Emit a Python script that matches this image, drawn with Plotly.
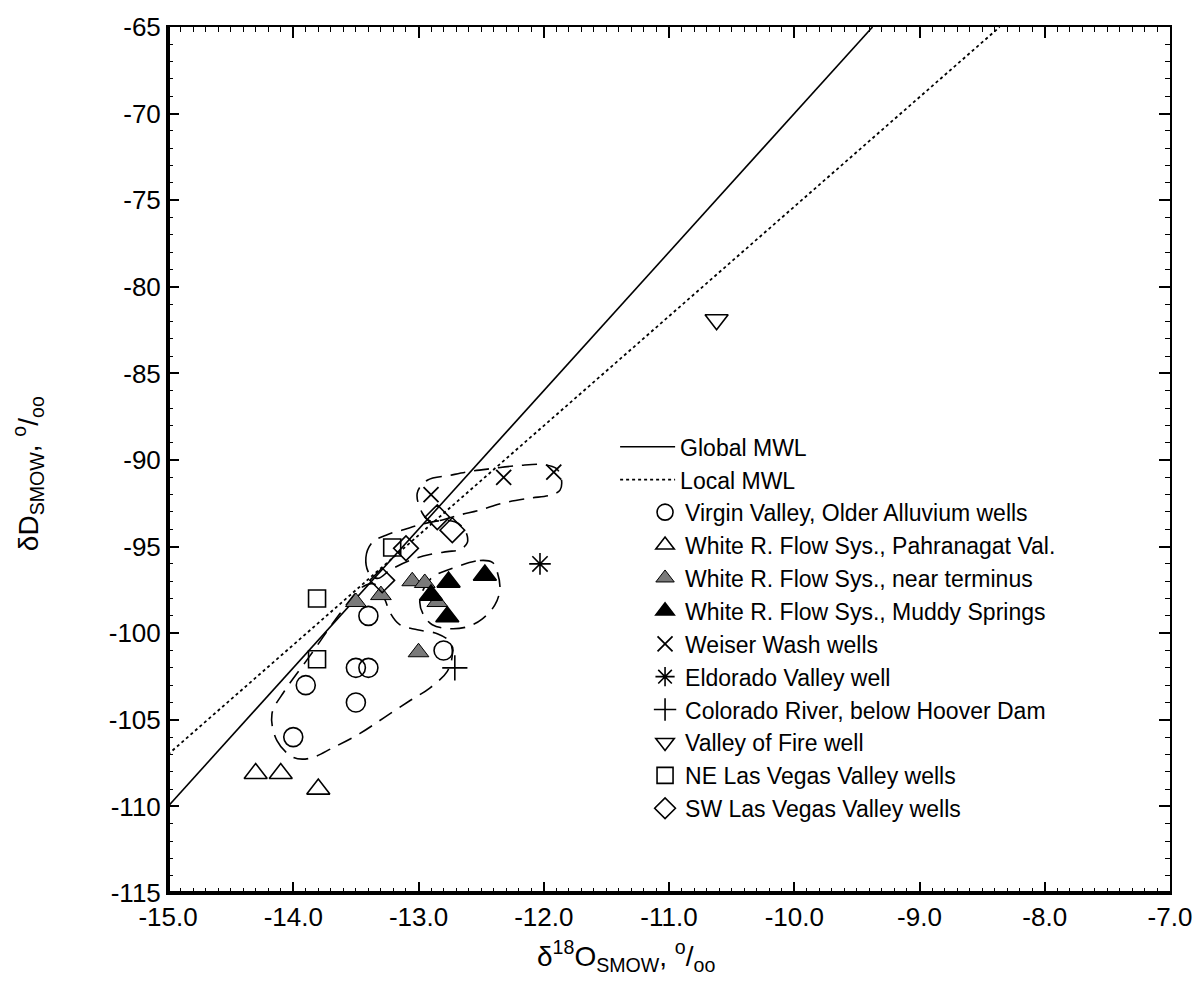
import plotly.graph_objects as go

# ---- data ----
x_ticks = [-15.0, -14.0, -13.0, -12.0, -11.0, -10.0, -9.0, -8.0, -7.0]
y_ticks = [-115, -110, -105, -100, -95, -90, -85, -80, -75, -70, -65]

gmwl_x = [-15.0, -9.375]
gmwl_y = [-110.0, -65.0]
lmwl_x = [-15.0, -8.36]
lmwl_y = [-107.0, -65.0]

virgin_x = [-14.0, -13.9, -13.5, -13.5, -13.4, -13.4, -12.8]
virgin_y = [-106.0, -103.0, -104.0, -102.0, -102.0, -99.0, -101.0]

pahranagat_x = [-14.3, -14.1, -13.8]
pahranagat_y = [-108.1, -108.1, -109.0]

terminus_x = [-13.5, -13.3, -13.05, -12.95, -12.85, -13.0]
terminus_y = [-98.2, -97.8, -97.0, -97.1, -98.2, -101.1]

muddy_x = [-12.9, -12.76, -12.47, -12.77]
muddy_y = [-97.8, -97.05, -96.65, -99.05]

weiser_x = [-12.9, -12.32, -11.92]
weiser_y = [-92.0, -91.0, -90.7]

eldorado_x = [-12.03]
eldorado_y = [-96.0]

colorado_x = [-12.71]
colorado_y = [-102.0]

fire_x = [-10.62]
fire_y = [-81.9]

ne_x = [-13.81, -13.81, -13.21]
ne_y = [-98.0, -101.5, -95.05]

sw_x = [-13.1, -12.73, -13.29, -12.85]
sw_y = [-95.1, -94.05, -96.95, -93.3]

# hand-drawn dashed enclosures
loop_big_x = [-14.17, -14.13, -14.0, -13.87, -13.68, -13.47, -13.28, -13.07, -12.91, -12.77,
              -12.73, -12.75, -12.85, -13.01, -13.15, -13.23, -13.27, -13.35, -13.45, -13.63,
              -13.87, -14.07, -14.17]
loop_big_y = [-104.66, -106.2, -107.17, -107.23, -106.6, -105.8, -104.9, -103.9, -103.17, -102.2,
              -101.23, -100.49, -100.03, -99.8, -99.5, -98.77, -98.03, -97.17, -97.34, -98.89,
              -101.34, -103.34, -104.66]

loop_weiser_x = [-13.01, -12.93, -12.75, -12.59, -12.41, -12.19, -12.01, -11.9, -11.86, -11.87,
                 -11.95, -12.11, -12.33, -12.51, -12.67, -12.81, -12.91, -12.97, -13.01]
loop_weiser_y = [-91.91, -91.17, -90.89, -90.66, -90.49, -90.31, -90.26, -90.49, -91.06, -91.74,
                 -92.03, -92.2, -92.49, -92.89, -93.17, -93.46, -93.51, -93.06, -91.91]

loop_sw_x = [-13.39, -13.42, -13.37, -13.25, -13.12, -12.99, -12.83, -12.71, -12.63, -12.61,
             -12.67, -12.77, -12.91, -13.07, -13.23, -13.32, -13.39]
loop_sw_y = [-96.6, -95.63, -94.77, -94.31, -94.03, -93.74, -93.51, -93.57, -94.03, -94.77,
             -95.17, -95.29, -95.46, -95.8, -96.37, -96.83, -96.6]

loop_muddy_x = [-12.75, -12.51, -12.41, -12.37, -12.35, -12.39, -12.49, -12.61, -12.75, -12.89,
                -12.96, -12.99, -12.96, -12.89, -12.75]
loop_muddy_y = [-96.31, -95.8, -95.91, -96.49, -97.46, -98.37, -99.17, -99.63, -99.74, -99.51,
                -98.94, -98.2, -97.46, -96.77, -96.31]

FONT = "Liberation Sans, Arial, Helvetica, sans-serif"

fig = go.Figure()

for lx, ly in [(loop_big_x, loop_big_y), (loop_weiser_x, loop_weiser_y),
               (loop_sw_x, loop_sw_y), (loop_muddy_x, loop_muddy_y)]:
    fig.add_trace(go.Scatter(x=lx, y=ly, mode="lines", showlegend=False, hoverinfo="skip",
                             line=dict(color="black", width=1.6, dash="15px,9px", shape="spline",
                                       smoothing=1.0)))

fig.add_trace(go.Scatter(x=gmwl_x, y=gmwl_y, mode="lines", name="Global MWL",
                         legend="legend", legendgroup="g1",
                         line=dict(color="black", width=1.6)))
fig.add_trace(go.Scatter(x=lmwl_x, y=lmwl_y, mode="lines", name="Local MWL",
                         legend="legend", legendgroup="g2",
                         line=dict(color="black", width=1.8, dash="dot")))

_n = [0]
def pts(x, y, name, symbol, size=18, color="black", lw=1.6):
    _n[0] += 1
    fig.add_trace(go.Scatter(x=x, y=y, mode="markers", name=name,
                             legend="legend2", legendgroup="m%d" % _n[0],
                             marker=dict(symbol=symbol, size=size, color=color,
                                         line=dict(color="black", width=lw))))

pts(virgin_x, virgin_y, "Virgin Valley, Older Alluvium wells", "circle-open", 19)
pts(pahranagat_x, pahranagat_y, "White R. Flow Sys., Pahranagat Val.", "triangle-up-open", 20)
pts(terminus_x, terminus_y, "White R. Flow Sys., near terminus", "triangle-up", 18, color="#7a7a7a", lw=1.0)
pts(muddy_x, muddy_y, "White R. Flow Sys., Muddy Springs", "triangle-up", 20)
pts(weiser_x, weiser_y, "Weiser Wash wells", "x-thin-open", 15, lw=1.8)
pts(eldorado_x, eldorado_y, "Eldorado Valley well", "asterisk-open", 18, lw=1.6)
pts(colorado_x, colorado_y, "Colorado River, below Hoover Dam", "cross-thin-open", 18, lw=1.6)
pts(fire_x, fire_y, "Valley of Fire well", "triangle-down-open", 20)
pts(ne_x, ne_y, "NE Las Vegas Valley wells", "square-open", 17)
pts(sw_x, sw_y, "SW Las Vegas Valley wells", "diamond-open", 19)

L, R, T, B = 168, 32, 19, 88
PW, PH = 1204 - L - R, 981 - T - B
def px2x(p):
    return (p - L) / PW
def px2y(p):
    return 1 - (p - T) / PH

fig.update_layout(
    width=1204, height=981,
    margin=dict(l=L, r=R, t=T, b=B),
    paper_bgcolor="white", plot_bgcolor="white",
    font=dict(family=FONT, color="black", size=22),
    legend=dict(x=px2x(616), y=px2y(421), xanchor="left", yanchor="top",
                bgcolor="rgba(0,0,0,0)", font=dict(size=23, family=FONT),
                itemwidth=55, tracegroupgap=0),
    legend2=dict(x=px2x(646), y=px2y(487), xanchor="left", yanchor="top",
                 bgcolor="rgba(0,0,0,0)", font=dict(size=23, family=FONT),
                 itemwidth=30, tracegroupgap=0),
    showlegend=True,
    shapes=[
        dict(type="line", xref="paper", yref="paper", x0=0, x1=0, y0=0, y1=1,
             line=dict(color="black", width=4)),
        dict(type="line", xref="paper", yref="paper", x0=0, x1=1, y0=0, y1=0,
             line=dict(color="black", width=4)),
    ],
    annotations=[
        dict(text="δ<sup>18</sup>O<sub>SMOW</sub>, <sup>o</sup>/<sub>oo</sub>",
             xref="paper", yref="paper", x=px2x(627), y=px2y(957),
             xanchor="center", yanchor="middle", showarrow=False,
             font=dict(size=28, family=FONT)),
        dict(text="δD<sub>SMOW</sub>, <sup>o</sup>/<sub>oo</sub>",
             xref="paper", yref="paper", x=px2x(28), y=px2y(470),
             xanchor="center", yanchor="middle", showarrow=False, textangle=-90,
             font=dict(size=28, family=FONT)),
    ],
)

fig.update_xaxes(
    range=[-15, -7],
    tickmode="array", tickvals=x_ticks, ticktext=["%.1f" % v for v in x_ticks],
    showgrid=False, zeroline=False,
    showline=True, linecolor="black", linewidth=2, mirror="ticks",
    ticks="inside", ticklen=11, tickwidth=1.5, tickcolor="black",
    tickfont=dict(size=26, family=FONT),
    minor=dict(dtick=0.1, tick0=-15, ticks="inside", ticklen=5, tickwidth=1,
               tickcolor="black", showgrid=False),
)
fig.update_yaxes(
    range=[-115, -65],
    tickmode="array", tickvals=y_ticks, ticktext=["%d" % v for v in y_ticks],
    showgrid=False, zeroline=False,
    showline=True, linecolor="black", linewidth=2, mirror="ticks",
    ticks="inside", ticklen=11, tickwidth=1.5, tickcolor="black",
    tickfont=dict(size=26, family=FONT),
    minor=dict(dtick=1, tick0=-115, ticks="inside", ticklen=5, tickwidth=1,
               tickcolor="black", showgrid=False),
)

fig.write_html("out.html")
